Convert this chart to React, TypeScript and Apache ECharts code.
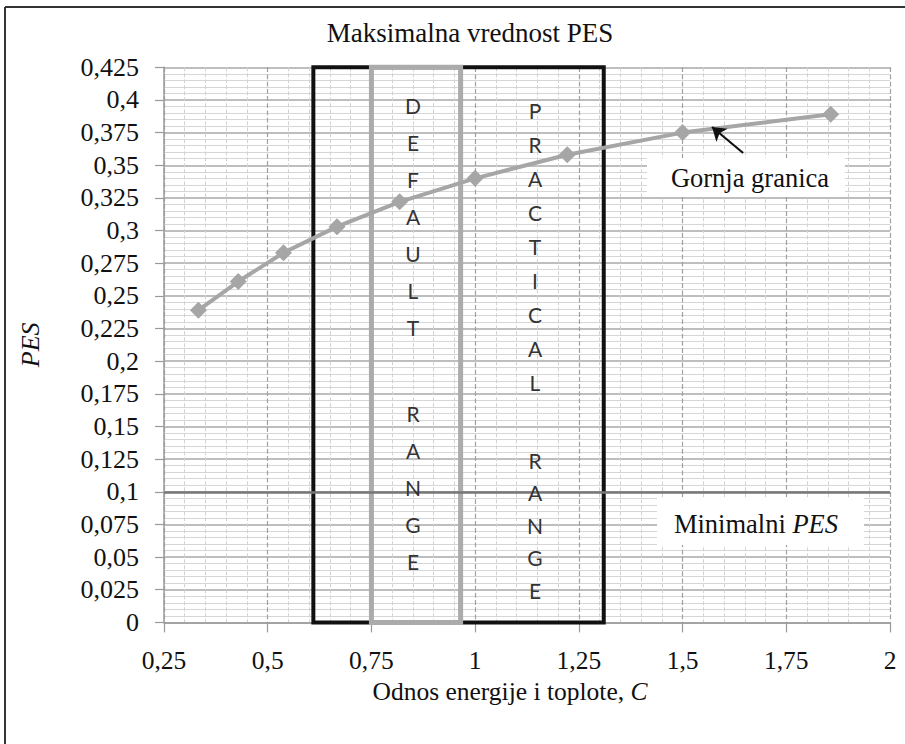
import React, { useEffect, useRef } from "react";
import * as echarts from "echarts";

// Data
const cValues = [0.333, 0.429, 0.538, 0.667, 0.818, 1.0, 1.222, 1.5, 1.857];
const pesValues = [0.239, 0.261, 0.283, 0.303, 0.322, 0.34, 0.358, 0.375, 0.389];
const minimalPes = 0.1;
const practicalRange = [0.61, 1.31];
const defaultRange = [0.75, 0.965];
const rangeTop = 0.427;
const arrowTail = [1.646, 0.3594];
const arrowHead = [1.571, 0.3793];
const xMin = 0.25;
const xMax = 2;
const xStep = 0.25;
const yMin = 0;
const yMax = 0.425;
const yStep = 0.025;

const SERIF = "Liberation Serif";
const fmt = (v: number) => String(Number(v.toFixed(3))).replace(".", ",");

export default function App() {
  const ref = useRef<HTMLDivElement>(null);
  useEffect(() => {
    if (!ref.current) return;
    const chart = echarts.init(ref.current, null, { renderer: "svg" });
    const points = cValues.map((c, i) => [c, pesValues[i]]);
    const letterStyle = (text: string, lh: number) => ({
      text,
      fontFamily: "Lato",
      fontSize: 21,
      lineHeight: lh,
      fill: "#333",
      align: "center",
      verticalAlign: "top",
    });
    chart.setOption({
      animation: false,
      backgroundColor: "#ffffff",
      grid: { left: 164, right: 15, top: 67.3, bottom: 121.6, containLabel: false },
      xAxis: {
        type: "value",
        min: xMin,
        max: xMax,
        interval: xStep,
        axisLine: { show: true, lineStyle: { color: "#9a9a9a", width: 1.5 } },
        axisTick: { show: true, length: 10, lineStyle: { color: "#9a9a9a", width: 1.2 } },
        axisLabel: { formatter: fmt, fontFamily: SERIF, fontSize: 25.5, color: "#111", margin: 25 },
        splitLine: { show: true, lineStyle: { color: "#a0a0a0", type: "dashed", width: 1.2 } },
        minorTick: { show: false, splitNumber: 5 },
        minorSplitLine: { show: true, lineStyle: { color: "#d2d2d2", type: "dashed", width: 1 } },
      },
      yAxis: {
        type: "value",
        min: yMin,
        max: yMax,
        interval: yStep,
        axisLine: { show: true, lineStyle: { color: "#9a9a9a", width: 1.5 } },
        axisTick: { show: true, length: 9, lineStyle: { color: "#9a9a9a", width: 1.2 } },
        axisLabel: { formatter: fmt, fontFamily: SERIF, fontSize: 26, color: "#111", margin: 25 },
        splitLine: { show: true, lineStyle: { color: "#a8a8a8", width: 1.5 } },
        minorTick: { show: false, splitNumber: 5 },
        minorSplitLine: { show: true, lineStyle: { color: "#d6d6d6", width: 1 } },
        name: "PES",
        nameLocation: "middle",
        nameGap: 121,
        nameRotate: 90,
        nameTextStyle: { fontFamily: SERIF, fontSize: 26, fontStyle: "italic", color: "#111" },
      },
      series: [
        {
          type: "line",
          data: points,
          showSymbol: false,
          silent: true,
          z: 1,
          lineStyle: { opacity: 0 },
          markArea: {
            silent: true,
            label: { show: false },
            itemStyle: { color: "rgba(0,0,0,0)", borderColor: "#111", borderWidth: 4 },
            data: [[{ coord: [practicalRange[0], rangeTop] }, { coord: [practicalRange[1], yMin] }]],
          },
        },
        {
          type: "line",
          data: points,
          showSymbol: false,
          silent: true,
          z: 2,
          lineStyle: { opacity: 0 },
          markArea: {
            silent: true,
            label: { show: false },
            itemStyle: { color: "rgba(0,0,0,0)", borderColor: "#ababab", borderWidth: 5 },
            data: [[{ coord: [defaultRange[0], rangeTop] }, { coord: [defaultRange[1], yMin] }]],
          },
        },
        {
          type: "line",
          data: points,
          z: 3,
          symbol: "diamond",
          symbolSize: 17,
          lineStyle: { color: "#a6a6a6", width: 4 },
          itemStyle: { color: "#a6a6a6" },
        },
        {
          type: "line",
          data: [],
          z: 4,
          markLine: {
            silent: true,
            animation: false,
            label: { show: false },
            lineStyle: { color: "#777", width: 2.5, type: "solid" },
            data: [
              [
                { coord: [xMin, minimalPes], symbol: "none" },
                { coord: [xMax, minimalPes], symbol: "none" },
              ],
              [
                { coord: arrowTail, symbol: "none", lineStyle: { color: "#111", width: 2.2, type: "solid" } },
                { coord: arrowHead, symbol: "arrow", symbolSize: 13, lineStyle: { color: "#111", width: 2.2, type: "solid" } },
              ],
            ],
          },
        },
      ],
      graphic: [
        { type: "line", z: 100, shape: { x1: 5, y1: 7, x2: 905, y2: 7 }, style: { stroke: "#333", lineWidth: 2 } },
        { type: "line", z: 100, shape: { x1: 5, y1: 7, x2: 5, y2: 744 }, style: { stroke: "#333", lineWidth: 2 } },
        {
          type: "text",
          z: 100,
          x: 470,
          y: 33,
          style: { text: "Maksimalna vrednost PES", fontFamily: SERIF, fontSize: 27, fill: "#111", align: "center", verticalAlign: "middle" },
        },
        {
          type: "text",
          z: 100,
          x: 510,
          y: 691,
          style: {
            text: "Odnos energije i toplote, {i|C}",
            fontFamily: SERIF,
            fontSize: 25.5,
            fill: "#111",
            align: "center",
            verticalAlign: "middle",
            rich: { i: { fontFamily: SERIF, fontSize: 25.5, fontStyle: "italic", fill: "#111" } },
          },
        },
        { type: "rect", z: 100, shape: { x: 647, y: 158, width: 198, height: 39 }, style: { fill: "#fff" } },
        {
          type: "text",
          z: 101,
          x: 750,
          y: 178,
          style: { text: "Gornja granica", fontFamily: SERIF, fontSize: 26.5, fill: "#111", align: "center", verticalAlign: "middle" },
        },
        { type: "rect", z: 100, shape: { x: 657, y: 498, width: 207, height: 47 }, style: { fill: "#fff" } },
        {
          type: "text",
          z: 101,
          x: 756,
          y: 524,
          style: {
            text: "Minimalni {i|PES}",
            fontFamily: SERIF,
            fontSize: 26.5,
            fill: "#111",
            align: "center",
            verticalAlign: "middle",
            rich: { i: { fontFamily: SERIF, fontSize: 26.5, fontStyle: "italic", fill: "#111" } },
          },
        },
        { type: "text", z: 102, x: 413, y: 87, style: letterStyle("D\nE\nF\nA\nU\nL\nT", 37) },
        { type: "text", z: 102, x: 413, y: 395, style: letterStyle("R\nA\nN\nG\nE", 37) },
        { type: "text", z: 102, x: 535, y: 93, style: letterStyle("P\nR\nA\nC\nT\nI\nC\nA\nL", 34) },
        { type: "text", z: 102, x: 535, y: 444, style: letterStyle("R\nA\nN\nG\nE", 32.5) },
      ],
    });
    return () => chart.dispose();
  }, []);
  return (
    <div
      ref={ref}
      style={{ position: "fixed", left: 0, top: 0, width: 905, height: 744, background: "#fff" }}
    />
  );
}
